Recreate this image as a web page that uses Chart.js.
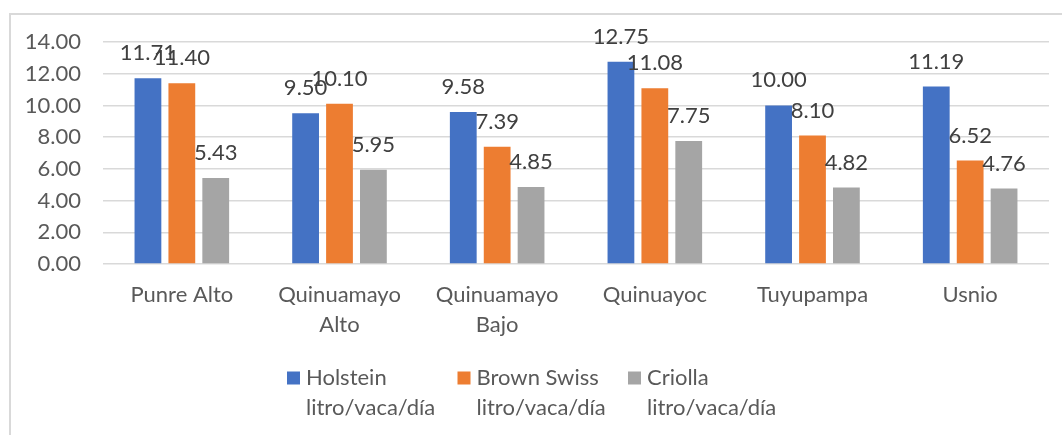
<!DOCTYPE html>
<html>
<head>
<meta charset="utf-8">
<script src="https://cdn.jsdelivr.net/npm/chart.js@4/dist/chart.umd.min.js"></script>
<style>
  html, body { margin: 0; padding: 0; background: #fff; }
  canvas { display: block; }
</style>
</head>
<body>
<canvas id="grafico" width="1062" height="435"></canvas>
<script>
// Comunidades y producción de leche por raza
const comunidades = ["Punre Alto", ["Quinuamayo", "Alto"], ["Quinuamayo", "Bajo"], "Quinuayoc", "Tuyupampa", "Usnio"];
const holstein = [11.71, 9.50, 9.58, 12.75, 10.00, 11.19];
const brownSwiss = [11.40, 10.10, 7.39, 11.08, 8.10, 6.52];
const criolla = [5.43, 5.95, 4.85, 7.75, 4.82, 4.76];
const nombresSeries = [["Holstein", "litro/vaca/día"], ["Brown Swiss", "litro/vaca/día"], ["Criolla", "litro/vaca/día"]];
const colores = ["#4472C4", "#ED7D31", "#A5A5A5"];
const ticksY = [0, 2, 4, 6, 8, 10, 12, 14];

const fuente = "Lato";
const tamano = 22;

// Marco del gráfico
const marco = {
  id: "marco",
  beforeDraw(chart) {
    const ctx = chart.ctx;
    ctx.save();
    ctx.strokeStyle = "#d9d9d9";
    ctx.lineWidth = 2;
    ctx.strokeRect(10, 14, 1200, 600);
    ctx.restore();
  }
};

// Etiquetas de valor encima de cada barra
const etiquetas = {
  id: "etiquetas",
  afterDatasetsDraw(chart) {
    const ctx = chart.ctx;
    ctx.save();
    ctx.font = tamano + "px " + fuente;
    ctx.fillStyle = "#404040";
    ctx.textAlign = "center";
    ctx.textBaseline = "alphabetic";
    chart.data.datasets.forEach((ds, i) => {
      chart.getDatasetMeta(i).data.forEach((bar, j) => {
        ctx.fillText(ds.data[j].toFixed(2), bar.x, bar.y - 18);
      });
    });
    ctx.restore();
  }
};

// Leyenda abajo, con el nombre en dos líneas
const leyenda = {
  id: "leyenda",
  afterDraw(chart) {
    const ctx = chart.ctx;
    const x0 = 287, paso = 170.5, y1 = 378, interlinea = 30, caja = 13;
    ctx.save();
    ctx.font = tamano + "px " + fuente;
    ctx.textAlign = "left";
    ctx.textBaseline = "middle";
    chart.data.datasets.forEach((ds, i) => {
      const x = x0 + i * paso;
      ctx.fillStyle = ds.backgroundColor;
      ctx.fillRect(x, y1 - caja / 2, caja, caja);
      ctx.fillStyle = "#595959";
      ds.label.forEach((linea, k) => {
        ctx.fillText(linea, x + caja + 6, y1 + k * interlinea);
      });
    });
    ctx.restore();
  }
};

new Chart(document.getElementById("grafico"), {
  type: "bar",
  data: {
    labels: comunidades,
    datasets: [
      { label: nombresSeries[0], data: holstein, backgroundColor: colores[0] },
      { label: nombresSeries[1], data: brownSwiss, backgroundColor: colores[1] },
      { label: nombresSeries[2], data: criolla, backgroundColor: colores[2] }
    ]
  },
  options: {
    responsive: false,
    animation: false,
    categoryPercentage: 0.645,
    barPercentage: 0.79,
    layout: { padding: { left: 9, right: 13, top: 42, bottom: 95 } },
    scales: {
      x: {
        grid: { display: false, drawTicks: false },
        border: { display: false },
        afterFit(axis) { axis.height = 76; },
        ticks: {
          color: "#595959",
          font: { family: fuente, size: tamano, lineHeight: 30 / tamano },
          padding: 16,
          maxRotation: 0,
          autoSkip: false
        }
      },
      y: {
        min: 0,
        max: 14,
        afterBuildTicks(axis) {
          axis.ticks = ticksY.map(v => ({ value: v }));
        },
        afterFit(axis) { axis.width = 94; },
        grid: { color: "#d9d9d9", lineWidth: 1.5, drawTicks: false },
        border: { display: false },
        ticks: {
          color: "#595959",
          font: { family: fuente, size: tamano },
          padding: 22,
          autoSkip: false,
          callback: v => v.toFixed(2)
        }
      }
    },
    plugins: {
      tooltip: { enabled: false },
      legend: { display: false }
    }
  },
  plugins: [marco, etiquetas, leyenda]
});
</script>
</body>
</html>
